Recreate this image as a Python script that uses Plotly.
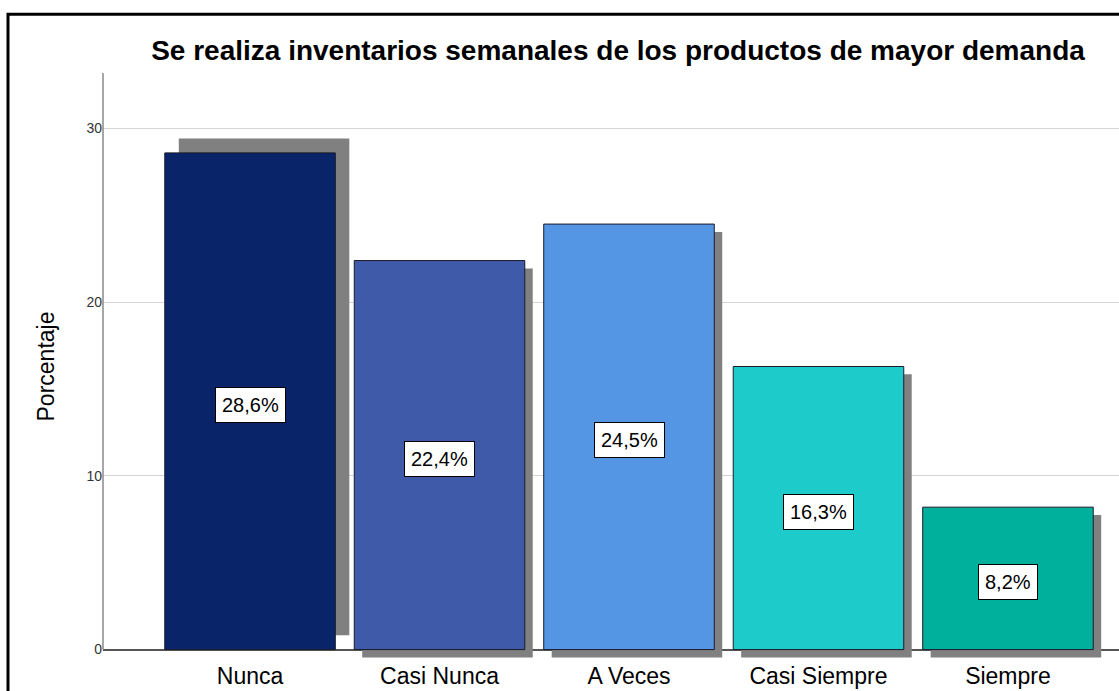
import plotly.graph_objects as go

categories = ["Nunca", "Casi Nunca", "A Veces", "Casi Siempre", "Siempre"]
percent = [28.6, 22.4, 24.5, 16.3, 8.2]
value_labels = ["28,6%", "22,4%", "24,5%", "16,3%", "8,2%"]
y_ticks = [0, 10, 20, 30]

colors = ["#0a246a", "#3f5aa8", "#5596e4", "#1ecbcb", "#00b09c"]
shadow_color = "#808080"
bar_width = 0.9
# shadow offsets (data units): x shift and base shift per bar
shadow_dx = [0.074, 0.042, 0.042, 0.042, 0.042]
shadow_dy = [0.83, -0.45, -0.45, -0.45, -0.45]

FONT = "Liberation Sans, Arial, sans-serif"
idx = list(range(len(categories)))

fig = go.Figure()
fig.add_trace(go.Bar(
    x=[i + d for i, d in zip(idx, shadow_dx)],
    y=percent,
    base=shadow_dy,
    width=bar_width,
    marker=dict(color=shadow_color, line=dict(width=0)),
    hoverinfo="skip",
    showlegend=False,
))
fig.add_trace(go.Bar(
    x=idx,
    y=percent,
    width=bar_width,
    marker=dict(color=colors, line=dict(color="#1a1a2a", width=1)),
    showlegend=False,
))

for i, v, t in zip(idx, percent, value_labels):
    fig.add_annotation(
        x=i, y=v / 2 - 0.2, text=t, showarrow=False,
        font=dict(family=FONT, size=20, color="#000"),
        bgcolor="#ffffff", bordercolor="#000000", borderwidth=1, borderpad=6,
        xanchor="center", yanchor="middle",
    )

ytop = 33.2
# y axis line from 0 to top
fig.add_shape(type="line", xref="paper", yref="y", x0=0, x1=0, y0=0, y1=ytop,
              line=dict(color="#8a8a8a", width=1.5))
# outer black frame
fig.add_shape(type="rect", xref="paper", yref="paper",
              x0=-0.0935, x1=1.05, y0=-0.2, y1=1.100,
              line=dict(color="#000000", width=3), fillcolor="rgba(0,0,0,0)", layer="above")

fig.update_layout(
    width=1119, height=691,
    margin=dict(l=103, r=0, t=73, b=31, autoexpand=False),
    paper_bgcolor="#ffffff", plot_bgcolor="#ffffff",
    barmode="overlay",
    title=dict(text="<b>Se realiza inventarios semanales de los productos de mayor demanda</b>",
               x=618 / 1119, xanchor="center", y=1 - 50 / 691, yanchor="middle",
               font=dict(family=FONT, size=28, color="#000")),
    xaxis=dict(range=[-0.776, 4.586], tickvals=idx, ticktext=categories,
               showgrid=False, zeroline=False, showline=False, ticks="",
               tickfont=dict(family=FONT, size=23, color="#000")),
    yaxis=dict(range=[-0.6, ytop], tickvals=y_ticks, showgrid=True, gridcolor="#d4d4d4",
               gridwidth=1, zeroline=True, zerolinecolor="#555555", zerolinewidth=1.5,
               showline=False, ticks="", tickfont=dict(family=FONT, size=14, color="#333"),
               title=dict(text="Porcentaje", font=dict(family=FONT, size=23, color="#000"), standoff=25)),
)

fig.write_html("out.html", config={"displayModeBar": False},
               post_script="document.body.style.margin='0';document.body.style.overflow='hidden';")
